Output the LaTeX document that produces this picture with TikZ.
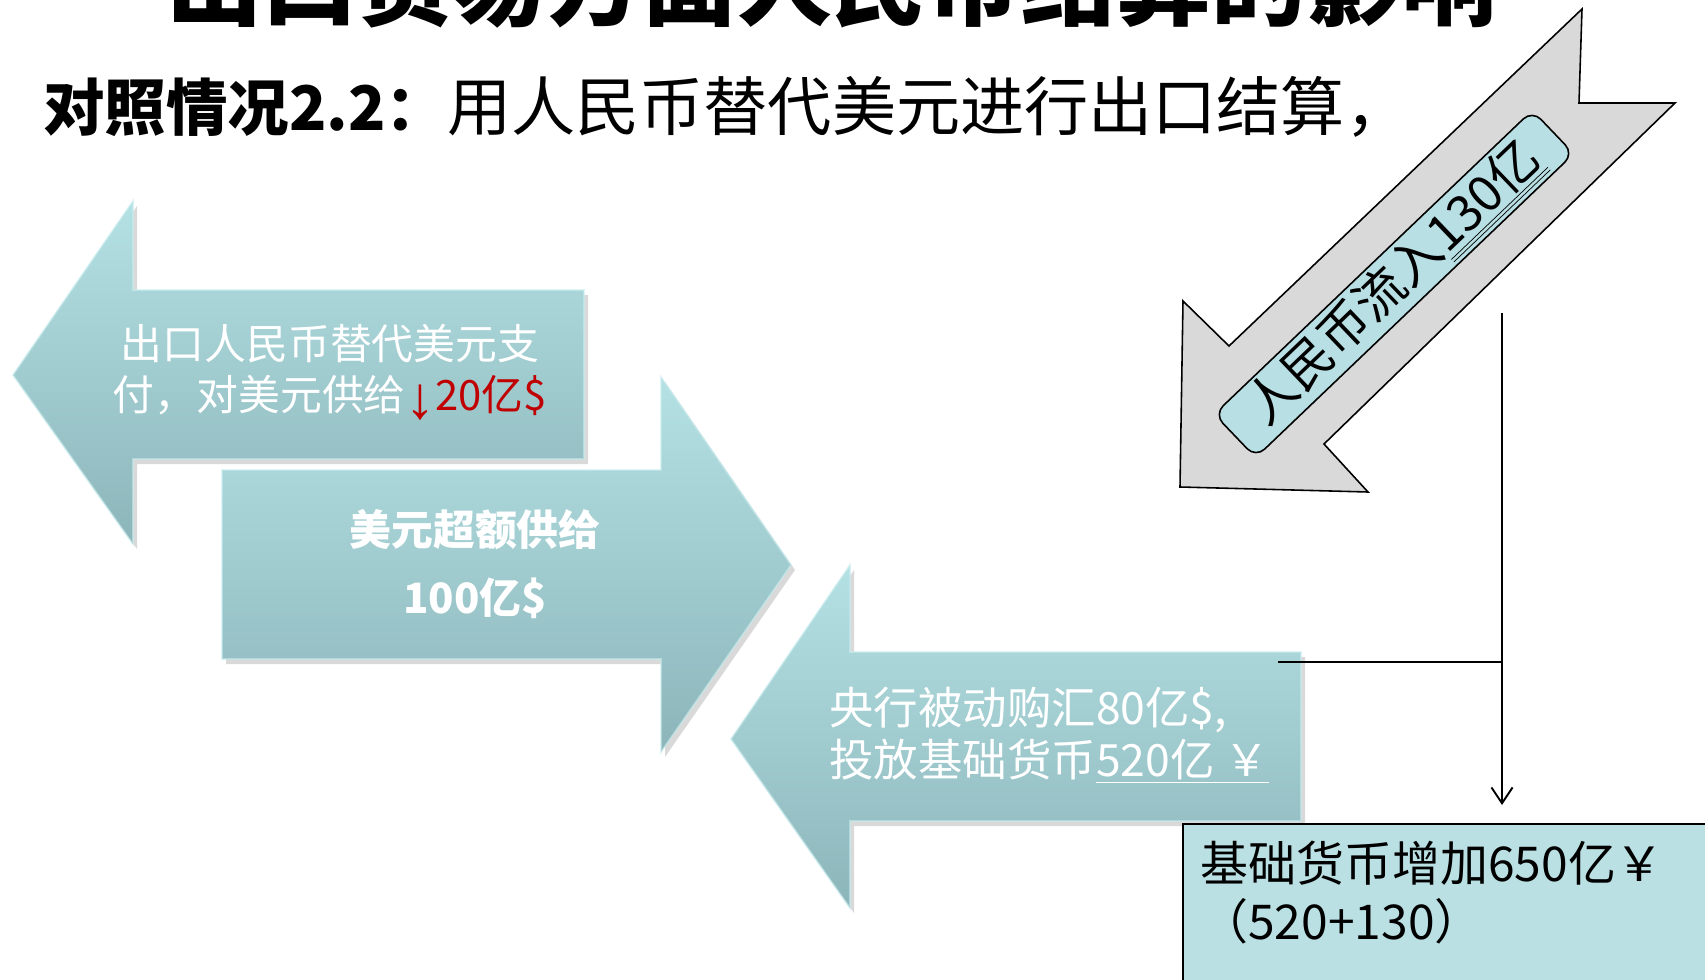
\documentclass[tikz,border=0pt]{standalone}
\usepackage{fontspec}
\setmainfont{Noto Sans CJK SC}
\newfontfamily\latfont{Liberation Sans}
\usetikzlibrary{arrows.meta}
\definecolor{tealtop}{RGB}{180,225,228}
\definecolor{tealbot}{RGB}{140,181,186}
\definecolor{tealedge}{RGB}{200,236,238}
\definecolor{grayarrow}{RGB}{217,217,217}
\definecolor{boxfill}{RGB}{186,224,227}
\definecolor{rmbfill}{RGB}{184,223,227}
\definecolor{darkred}{RGB}{192,0,0}
\tikzset{
  tealarrow/.style={top color=tealtop, bottom color=tealbot, draw=tealedge, draw opacity=0.6, line width=1pt},
  arrowshadow/.style={fill=black, opacity=0.15},
  wtext/.style={text=white, inner sep=0pt},
  connector/.style={draw=black, line width=1.1pt},
}
\begin{document}
\begin{tikzpicture}[x=0.02cm,y=-0.02cm]
\useasboundingbox (0,0) rectangle (1705,980);
\clip (0,0) rectangle (1705,980);

% titles
\node[font=\fontsize{54}{60}\selectfont\bfseries, inner sep=0pt] (title) at (832,-18) {出口贸易方面人民币结算的影响};
\node[anchor=west, inner sep=0pt] (subtitle) at (43,107)
  {\fontsize{35}{40}\selectfont\textbf{对照情况2.2：}\fontsize{36.5}{40}\selectfont 用人民币替代美元进行出口结算，};

% shadows
\fill[arrowshadow] (17,380) -- (137,206) -- (137,295) -- (588,295) -- (588,464) -- (137,464) -- (137,549) -- cycle;
\fill[arrowshadow] (226,475) -- (665,475) -- (665,382) -- (795,570) -- (665,757) -- (665,664) -- (226,664) -- cycle;
\fill[arrowshadow] (735,744) -- (854,570) -- (854,657) -- (1305,657) -- (1305,826) -- (854,826) -- (854,913) -- cycle;

% left arrow
\path[tealarrow] (13,375) -- (133,201) -- (133,290) -- (584,290) -- (584,459) -- (133,459) -- (133,544) -- cycle;
% middle arrow
\path[tealarrow] (222,470) -- (661,470) -- (661,377) -- (791,565) -- (661,752) -- (661,659) -- (222,659) -- cycle;
% bottom arrow
\path[tealarrow] (731,739) -- (850,565) -- (850,652) -- (1301,652) -- (1301,821) -- (850,821) -- (850,908) -- cycle;

\node[wtext, align=center, font=\fontsize{23.8}{29}\selectfont] (exporttxt) at (330,372)
  {出口人民币替代美元支\\付，对美元供给{\color{darkred}\raisebox{-0.2em}{\fontsize{34}{34}\latfont ↓}20亿\$}};
\node[wtext, align=center, font=\fontsize{23.8}{38.5}\selectfont\bfseries] (surplustxt) at (475,564)
  {美元超额供给\\100亿\$};
\node[wtext, align=left, anchor=west, font=\fontsize{25.3}{29.5}\selectfont] (cbtxt) at (829,735)
  {央行被动购汇80亿\$,\\投放基础货币\underline{520亿 ￥}};

% gray diagonal arrow
\draw[fill=grayarrow, line width=0.9pt, line join=miter] (1582,9) -- (1229,346) -- (1183,301) -- (1180,487)
  -- (1368,492) -- (1324,444) -- (1675,103) -- (1579,103) -- cycle;
\node[draw=black, fill=rmbfill, line width=0.9pt, rounded corners=7pt, rotate=43.7,
      minimum width=8.8cm, minimum height=1.2cm, inner sep=0pt,
      font=\fontsize{28.5}{30}\selectfont] (rmbin) at (1394,284)
  {人民币流入\underline{\underline{130亿}}};

% result box
\node[draw=black, fill=boxfill, line width=1pt, anchor=north west, minimum width=11cm,
      minimum height=4cm, inner sep=0pt] (result) at (1182,823) {};
\node[anchor=west, align=left, inner sep=0pt, font=\fontsize{27.3}{33}\selectfont] (resulttxt) at (1200,893)
  {基础货币增加650亿￥\\（520+130）};

% connectors
\coordinate (vtop) at (1502,313);
\coordinate (junc) at (1502,662);
\coordinate (hstart) at (1278,662);
\draw[connector] (hstart) -- (junc);
\draw[connector, -{Straight Barb[length=9pt,width=12pt,line width=1.1pt]}, shorten >=18*0.02cm]
  (vtop) -- (vtop |- result.north);
\end{tikzpicture}
\end{document}
